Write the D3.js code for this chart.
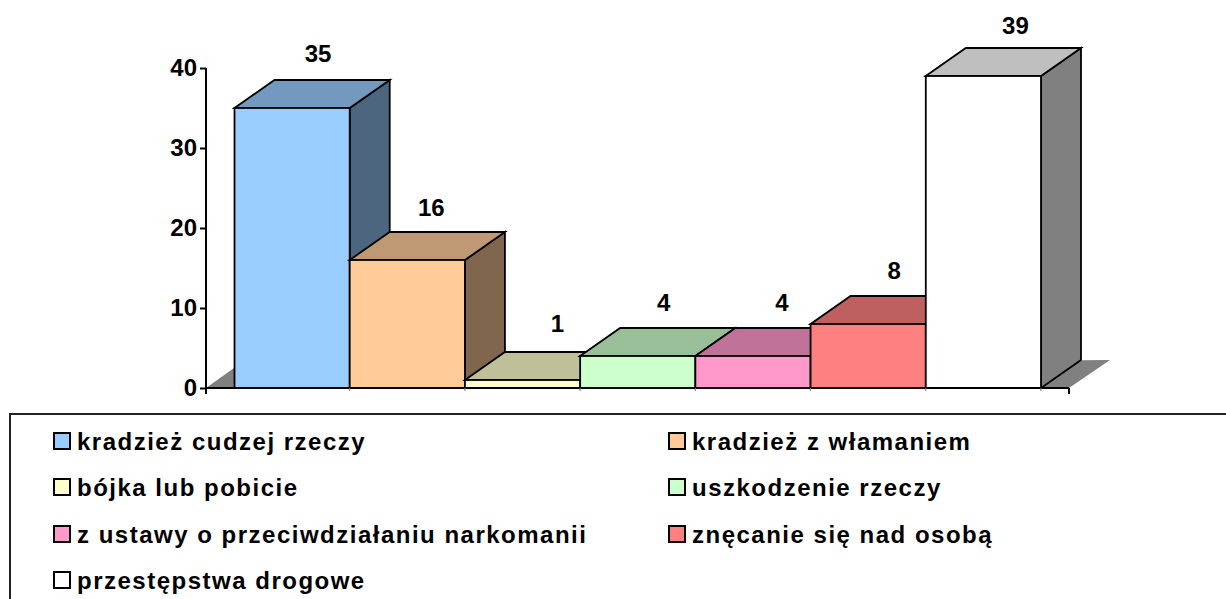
<!DOCTYPE html>
<html><head><meta charset="utf-8">
<style>html,body{margin:0;padding:0;background:#fff}svg{display:block}text{font-family:"Liberation Sans",Arial,sans-serif;font-weight:700;fill:#000}</style>
<script src="https://cdn.jsdelivr.net/npm/d3@7/dist/d3.min.js"></script>
</head><body><svg id="c" width="1226" height="599"></svg>
<script>
const categories=["kradzież cudzej rzeczy","kradzież z włamaniem","bójka lub pobicie","uszkodzenie rzeczy","z ustawy o przeciwdziałaniu narkomanii","znęcanie się nad osobą","przestępstwa drogowe"];
const values=[35,16,1,4,4,8,39];
const colors=["#99CCFF","#FFCC99","#FFFFCC","#CCFFCC","#FF99CC","#FF8080","#FFFFFF"];
const yTicks=[0,10,20,30,40];

const svg=d3.select("#c");
const y=d3.scaleLinear().domain([0,40]).range([388,68]);
const x=d3.scaleBand().domain(categories).range([234.5,1041]);
const depthX=40,depthY=28;
const shade=(c,k)=>{const r=d3.rgb(c);return d3.rgb(r.r*k,r.g*k,r.b*k).formatHex();};
const poly=p=>p.map(q=>q.join(",")).join(" ");

// floor (back wall and grid invisible)
svg.append("polygon")
  .attr("points",poly([[206,y(0)],[206+depthX-12,y(0)-depthY+8],[1110,y(0)-depthY],[1069,y(0)]]))
  .attr("fill","#808080");

// bars back to front, left to right
const g=svg.append("g");
categories.forEach((c,i)=>{
  const x0=x(c),x1=x0+x.bandwidth(),yt=y(values[i]),yb=y(0),col=colors[i];
  const b=g.append("g").attr("stroke","#000").attr("stroke-width",1.8).attr("stroke-linejoin","miter");
  b.append("polygon").attr("points",poly([[x1,yt],[x1+depthX,yt-depthY],[x1+depthX,yb-depthY],[x1,yb]])).attr("fill",shade(col,.5));
  b.append("polygon").attr("points",poly([[x0,yt],[x0+depthX,yt-depthY],[x1+depthX,yt-depthY],[x1,yt]])).attr("fill",shade(col,.75));
  b.append("rect").attr("x",x0).attr("y",yt).attr("width",x.bandwidth()).attr("height",yb-yt).attr("fill",col);
});

// axes
const yAxis=d3.axisLeft(y).tickValues(yTicks).tickSize(6).tickPadding(3).tickFormat(d3.format("d"));
const ya=svg.append("g").attr("transform","translate(206,0)").call(yAxis);
ya.selectAll("path").attr("d",`M0,${y(40)}V${y(0)+6}`).attr("stroke","#000").attr("stroke-width",2).attr("fill","none");
ya.selectAll("line").attr("stroke","#000").attr("stroke-width",2);
ya.selectAll("text").style("font-size","24px").style("font-family",'"Liberation Sans",Arial,sans-serif').style("font-weight",700).attr("fill","#000");
const xa=svg.append("g");
xa.append("line").attr("x1",206).attr("x2",1069).attr("y1",y(0)).attr("y2",y(0)).attr("stroke","#000").attr("stroke-width",2);
xa.append("line").attr("x1",1069).attr("x2",1069).attr("y1",y(0)).attr("y2",y(0)+6).attr("stroke","#000").attr("stroke-width",2);
xa.selectAll("line.t").data(categories).join("line").attr("class","t")
  .attr("x1",d=>x(d)+x.bandwidth()).attr("x2",d=>x(d)+x.bandwidth()).attr("y1",y(0)).attr("y2",y(0)+3).attr("stroke","#888");

// value labels
const nudgeX=[0,-2,9,0,3,0,6],nudgeY=[-1,1,-3,0,0,0,3];
svg.selectAll("text.v").data(values).join("text").attr("class","v")
  .attr("x",(d,i)=>x(categories[i])+x.bandwidth()/2+26+nudgeX[i])
  .attr("y",(d,i)=>y(d)-45+nudgeY[i])
  .attr("text-anchor","middle").style("font-size","24px").text(d=>d);

// legend
svg.append("path").attr("d","M1226,414H10V599").attr("fill","none").attr("stroke","#222").attr("stroke-width",2);
const legX=[54,669],legY=[450,496,543,589];
const leg=svg.selectAll("g.l").data(categories).join("g").attr("class","l")
  .attr("transform",(d,i)=>`translate(${legX[i%2]},${legY[Math.floor(i/2)]})`);
leg.append("rect").attr("x",0).attr("y",-17).attr("width",16).attr("height",16)
  .attr("fill",(d,i)=>colors[i]).attr("stroke","#000").attr("stroke-width",2);
leg.append("text").attr("x",23).attr("y",0).style("font-size","24px").style("letter-spacing","1.5px").text(d=>d);
</script></body></html>
